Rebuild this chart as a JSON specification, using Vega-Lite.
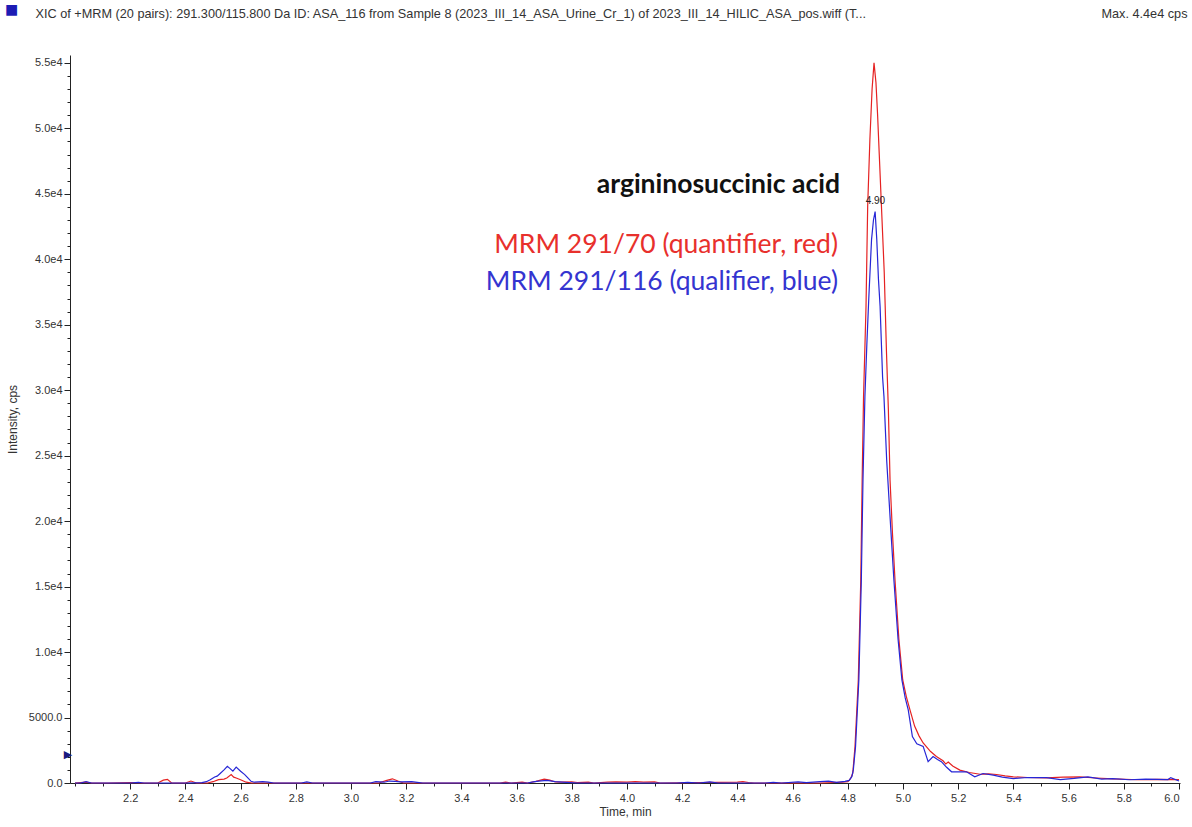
{
  "$schema": "https://vega.github.io/schema/vega-lite/v6.json",
  "width": 1110,
  "height": 728,
  "autosize": {"type": "none"},
  "padding": {"left": 70, "top": 55, "right": 12, "bottom": 44},
  "background": "white",
  "config": {
    "view": {"stroke": null},
    "axis": {
      "grid": false,
      "labelFont": "Liberation Sans",
      "titleFont": "Liberation Sans",
      "labelColor": "#333333",
      "titleColor": "#333333",
      "domainColor": "#222222",
      "tickColor": "#222222",
      "titleFontWeight": "normal",
      "labelFontSize": 11,
      "titleFontSize": 12
    }
  },
  "datasets": {
    "trace": [
      {"t": 2.00, "cps": 0, "trace": "red"}, {"t": 2.04, "cps": 60, "trace": "red"}, {"t": 2.06, "cps": 0, "trace": "red"}, {"t": 2.12, "cps": 0, "trace": "red"}, {"t": 2.20, "cps": 40, "trace": "red"}, {"t": 2.24, "cps": 0, "trace": "red"}, {"t": 2.30, "cps": 0, "trace": "red"}, {"t": 2.32, "cps": 220, "trace": "red"}, {"t": 2.335, "cps": 280, "trace": "red"}, {"t": 2.35, "cps": 0, "trace": "red"}, {"t": 2.40, "cps": 0, "trace": "red"}, {"t": 2.42, "cps": 150, "trace": "red"}, {"t": 2.44, "cps": 0, "trace": "red"}, {"t": 2.48, "cps": 0, "trace": "red"}, {"t": 2.50, "cps": 100, "trace": "red"}, {"t": 2.52, "cps": 260, "trace": "red"}, {"t": 2.54, "cps": 300, "trace": "red"}, {"t": 2.55, "cps": 380, "trace": "red"}, {"t": 2.566, "cps": 640, "trace": "red"}, {"t": 2.575, "cps": 450, "trace": "red"}, {"t": 2.584, "cps": 380, "trace": "red"}, {"t": 2.60, "cps": 250, "trace": "red"}, {"t": 2.62, "cps": 60, "trace": "red"}, {"t": 2.64, "cps": 0, "trace": "red"}, {"t": 3.10, "cps": 0, "trace": "red"}, {"t": 3.13, "cps": 200, "trace": "red"}, {"t": 3.15, "cps": 320, "trace": "red"}, {"t": 3.17, "cps": 150, "trace": "red"}, {"t": 3.19, "cps": 0, "trace": "red"}, {"t": 3.54, "cps": 0, "trace": "red"}, {"t": 3.56, "cps": 60, "trace": "red"}, {"t": 3.58, "cps": 0, "trace": "red"}, {"t": 3.62, "cps": 60, "trace": "red"}, {"t": 3.64, "cps": 0, "trace": "red"}, {"t": 3.67, "cps": 120, "trace": "red"}, {"t": 3.70, "cps": 300, "trace": "red"}, {"t": 3.72, "cps": 220, "trace": "red"}, {"t": 3.74, "cps": 80, "trace": "red"}, {"t": 3.76, "cps": 60, "trace": "red"}, {"t": 3.80, "cps": 80, "trace": "red"}, {"t": 3.82, "cps": 40, "trace": "red"}, {"t": 3.86, "cps": 60, "trace": "red"}, {"t": 3.88, "cps": 0, "trace": "red"}, {"t": 3.93, "cps": 60, "trace": "red"}, {"t": 3.96, "cps": 80, "trace": "red"}, {"t": 4.00, "cps": 60, "trace": "red"}, {"t": 4.03, "cps": 100, "trace": "red"}, {"t": 4.06, "cps": 60, "trace": "red"}, {"t": 4.10, "cps": 80, "trace": "red"}, {"t": 4.12, "cps": 0, "trace": "red"}, {"t": 4.40, "cps": 60, "trace": "red"}, {"t": 4.42, "cps": 100, "trace": "red"}, {"t": 4.44, "cps": 40, "trace": "red"}, {"t": 4.46, "cps": 0, "trace": "red"}, {"t": 4.70, "cps": 0, "trace": "red"}, {"t": 4.75, "cps": 40, "trace": "red"}, {"t": 4.78, "cps": 60, "trace": "red"}, {"t": 4.80, "cps": 100, "trace": "red"}, {"t": 4.805, "cps": 200, "trace": "red"}, {"t": 4.812, "cps": 420, "trace": "red"}, {"t": 4.818, "cps": 760, "trace": "red"}, {"t": 4.826, "cps": 2770, "trace": "red"}, {"t": 4.838, "cps": 7870, "trace": "red"}, {"t": 4.847, "cps": 15510, "trace": "red"}, {"t": 4.852, "cps": 23150, "trace": "red"}, {"t": 4.857, "cps": 29500, "trace": "red"}, {"t": 4.866, "cps": 36390, "trace": "red"}, {"t": 4.872, "cps": 44030, "trace": "red"}, {"t": 4.880, "cps": 49120, "trace": "red"}, {"t": 4.888, "cps": 53000, "trace": "red"}, {"t": 4.895, "cps": 55000, "trace": "red"}, {"t": 4.902, "cps": 53500, "trace": "red"}, {"t": 4.908, "cps": 51000, "trace": "red"}, {"t": 4.914, "cps": 48000, "trace": "red"}, {"t": 4.923, "cps": 43500, "trace": "red"}, {"t": 4.932, "cps": 39000, "trace": "red"}, {"t": 4.940, "cps": 33000, "trace": "red"}, {"t": 4.947, "cps": 28500, "trace": "red"}, {"t": 4.953, "cps": 23150, "trace": "red"}, {"t": 4.962, "cps": 19000, "trace": "red"}, {"t": 4.971, "cps": 15510, "trace": "red"}, {"t": 4.985, "cps": 11000, "trace": "red"}, {"t": 4.999, "cps": 7870, "trace": "red"}, {"t": 5.012, "cps": 6600, "trace": "red"}, {"t": 5.025, "cps": 5600, "trace": "red"}, {"t": 5.042, "cps": 4350, "trace": "red"}, {"t": 5.058, "cps": 3600, "trace": "red"}, {"t": 5.073, "cps": 3060, "trace": "red"}, {"t": 5.10, "cps": 2400, "trace": "red"}, {"t": 5.121, "cps": 2020, "trace": "red"}, {"t": 5.145, "cps": 1700, "trace": "red"}, {"t": 5.155, "cps": 1450, "trace": "red"}, {"t": 5.164, "cps": 1600, "trace": "red"}, {"t": 5.18, "cps": 1300, "trace": "red"}, {"t": 5.206, "cps": 985, "trace": "red"}, {"t": 5.24, "cps": 800, "trace": "red"}, {"t": 5.279, "cps": 670, "trace": "red"}, {"t": 5.31, "cps": 700, "trace": "red"}, {"t": 5.339, "cps": 650, "trace": "red"}, {"t": 5.37, "cps": 550, "trace": "red"}, {"t": 5.40, "cps": 470, "trace": "red"}, {"t": 5.45, "cps": 420, "trace": "red"}, {"t": 5.52, "cps": 390, "trace": "red"}, {"t": 5.58, "cps": 450, "trace": "red"}, {"t": 5.64, "cps": 470, "trace": "red"}, {"t": 5.70, "cps": 380, "trace": "red"}, {"t": 5.76, "cps": 310, "trace": "red"}, {"t": 5.85, "cps": 250, "trace": "red"}, {"t": 5.92, "cps": 280, "trace": "red"}, {"t": 6.00, "cps": 260, "trace": "red"},
      {"t": 2.00, "cps": 0, "trace": "blue"}, {"t": 2.02, "cps": 0, "trace": "blue"}, {"t": 2.04, "cps": 100, "trace": "blue"}, {"t": 2.06, "cps": 0, "trace": "blue"}, {"t": 2.20, "cps": 0, "trace": "blue"}, {"t": 2.23, "cps": 40, "trace": "blue"}, {"t": 2.25, "cps": 0, "trace": "blue"}, {"t": 2.40, "cps": 0, "trace": "blue"}, {"t": 2.46, "cps": 30, "trace": "blue"}, {"t": 2.476, "cps": 100, "trace": "blue"}, {"t": 2.49, "cps": 250, "trace": "blue"}, {"t": 2.506, "cps": 460, "trace": "blue"}, {"t": 2.515, "cps": 520, "trace": "blue"}, {"t": 2.524, "cps": 690, "trace": "blue"}, {"t": 2.54, "cps": 1000, "trace": "blue"}, {"t": 2.552, "cps": 1270, "trace": "blue"}, {"t": 2.562, "cps": 1100, "trace": "blue"}, {"t": 2.572, "cps": 900, "trace": "blue"}, {"t": 2.584, "cps": 1220, "trace": "blue"}, {"t": 2.60, "cps": 900, "trace": "blue"}, {"t": 2.615, "cps": 640, "trace": "blue"}, {"t": 2.628, "cps": 350, "trace": "blue"}, {"t": 2.638, "cps": 130, "trace": "blue"}, {"t": 2.65, "cps": 60, "trace": "blue"}, {"t": 2.68, "cps": 100, "trace": "blue"}, {"t": 2.70, "cps": 60, "trace": "blue"}, {"t": 2.72, "cps": 0, "trace": "blue"}, {"t": 2.82, "cps": 0, "trace": "blue"}, {"t": 2.84, "cps": 80, "trace": "blue"}, {"t": 2.86, "cps": 0, "trace": "blue"}, {"t": 3.07, "cps": 0, "trace": "blue"}, {"t": 3.09, "cps": 100, "trace": "blue"}, {"t": 3.12, "cps": 60, "trace": "blue"}, {"t": 3.14, "cps": 150, "trace": "blue"}, {"t": 3.16, "cps": 120, "trace": "blue"}, {"t": 3.18, "cps": 80, "trace": "blue"}, {"t": 3.22, "cps": 100, "trace": "blue"}, {"t": 3.24, "cps": 50, "trace": "blue"}, {"t": 3.26, "cps": 0, "trace": "blue"}, {"t": 3.64, "cps": 0, "trace": "blue"}, {"t": 3.66, "cps": 80, "trace": "blue"}, {"t": 3.68, "cps": 150, "trace": "blue"}, {"t": 3.71, "cps": 200, "trace": "blue"}, {"t": 3.74, "cps": 100, "trace": "blue"}, {"t": 3.78, "cps": 50, "trace": "blue"}, {"t": 3.82, "cps": 0, "trace": "blue"}, {"t": 4.18, "cps": 0, "trace": "blue"}, {"t": 4.22, "cps": 50, "trace": "blue"}, {"t": 4.26, "cps": 0, "trace": "blue"}, {"t": 4.30, "cps": 80, "trace": "blue"}, {"t": 4.33, "cps": 0, "trace": "blue"}, {"t": 4.50, "cps": 0, "trace": "blue"}, {"t": 4.53, "cps": 50, "trace": "blue"}, {"t": 4.56, "cps": 0, "trace": "blue"}, {"t": 4.62, "cps": 80, "trace": "blue"}, {"t": 4.65, "cps": 30, "trace": "blue"}, {"t": 4.70, "cps": 100, "trace": "blue"}, {"t": 4.73, "cps": 150, "trace": "blue"}, {"t": 4.76, "cps": 50, "trace": "blue"}, {"t": 4.79, "cps": 120, "trace": "blue"}, {"t": 4.805, "cps": 200, "trace": "blue"}, {"t": 4.815, "cps": 500, "trace": "blue"}, {"t": 4.820, "cps": 1000, "trace": "blue"}, {"t": 4.828, "cps": 2770, "trace": "blue"}, {"t": 4.840, "cps": 7870, "trace": "blue"}, {"t": 4.849, "cps": 15510, "trace": "blue"}, {"t": 4.855, "cps": 23150, "trace": "blue"}, {"t": 4.862, "cps": 29510, "trace": "blue"}, {"t": 4.869, "cps": 33500, "trace": "blue"}, {"t": 4.876, "cps": 37000, "trace": "blue"}, {"t": 4.886, "cps": 41500, "trace": "blue"}, {"t": 4.893, "cps": 43000, "trace": "blue"}, {"t": 4.899, "cps": 43640, "trace": "blue"}, {"t": 4.905, "cps": 41500, "trace": "blue"}, {"t": 4.911, "cps": 38500, "trace": "blue"}, {"t": 4.917, "cps": 36390, "trace": "blue"}, {"t": 4.926, "cps": 31000, "trace": "blue"}, {"t": 4.931, "cps": 29510, "trace": "blue"}, {"t": 4.941, "cps": 24600, "trace": "blue"}, {"t": 4.954, "cps": 20000, "trace": "blue"}, {"t": 4.967, "cps": 15510, "trace": "blue"}, {"t": 4.982, "cps": 11000, "trace": "blue"}, {"t": 4.996, "cps": 7870, "trace": "blue"}, {"t": 5.008, "cps": 6500, "trace": "blue"}, {"t": 5.019, "cps": 5580, "trace": "blue"}, {"t": 5.034, "cps": 3550, "trace": "blue"}, {"t": 5.05, "cps": 3000, "trace": "blue"}, {"t": 5.073, "cps": 2800, "trace": "blue"}, {"t": 5.091, "cps": 1630, "trace": "blue"}, {"t": 5.109, "cps": 2020, "trace": "blue"}, {"t": 5.125, "cps": 1800, "trace": "blue"}, {"t": 5.139, "cps": 1630, "trace": "blue"}, {"t": 5.158, "cps": 1200, "trace": "blue"}, {"t": 5.176, "cps": 855, "trace": "blue"}, {"t": 5.23, "cps": 855, "trace": "blue"}, {"t": 5.26, "cps": 470, "trace": "blue"}, {"t": 5.29, "cps": 725, "trace": "blue"}, {"t": 5.327, "cps": 600, "trace": "blue"}, {"t": 5.36, "cps": 450, "trace": "blue"}, {"t": 5.40, "cps": 340, "trace": "blue"}, {"t": 5.45, "cps": 420, "trace": "blue"}, {"t": 5.52, "cps": 410, "trace": "blue"}, {"t": 5.57, "cps": 260, "trace": "blue"}, {"t": 5.62, "cps": 350, "trace": "blue"}, {"t": 5.67, "cps": 470, "trace": "blue"}, {"t": 5.72, "cps": 300, "trace": "blue"}, {"t": 5.76, "cps": 340, "trace": "blue"}, {"t": 5.82, "cps": 250, "trace": "blue"}, {"t": 5.88, "cps": 300, "trace": "blue"}, {"t": 5.96, "cps": 260, "trace": "blue"}, {"t": 5.97, "cps": 410, "trace": "blue"}, {"t": 6.00, "cps": 150, "trace": "blue"}
    ],
    "notes": [
      {"t": 4.7717, "cps": 45670, "label": "argininosuccinic acid", "kind": "title"},
      {"t": 4.7645, "cps": 41090, "label": "MRM 291/70 (quantifier, red)", "kind": "red"},
      {"t": 4.7645, "cps": 38300, "label": "MRM 291/116 (qualifier, blue)", "kind": "blue"},
      {"t": 4.90, "cps": 44450, "label": "4.90", "kind": "apex"},
      {"t": 1.9747, "cps": 2140, "label": "▶", "kind": "marker"}
    ]
  },
  "data": {"name": "trace"},
  "layer": [
    {
      "transform": [{"filter": "datum.trace === 'red'"}],
      "mark": {"type": "line", "color": "#e52222", "strokeWidth": 1.2},
      "encoding": {
        "x": {"field": "t", "type": "quantitative", "scale": {"domain": [1.9819, 6.0036], "nice": false, "zero": false},
          "axis": {"orient": "bottom", "values": [2.2, 2.4, 2.6, 2.8, 3.0, 3.2, 3.4, 3.6, 3.8, 4.0, 4.2, 4.4, 4.6, 4.8, 5.0, 5.2, 5.4, 5.6, 5.8, 6.0], "format": ".1f", "tickSize": 6, "labelPadding": 3, "title": "Time, min", "titlePadding": 3}},
        "y": {"field": "cps", "type": "quantitative", "scale": {"domain": [0, 55600], "nice": false, "zero": true},
          "axis": {"orient": "left", "values": [0, 5000, 10000, 15000, 20000, 25000, 30000, 35000, 40000, 45000, 50000, 55000], "labelExpr": "datum.value >= 10000 ? format(datum.value / 10000, '.1f') + 'e4' : format(datum.value, '.1f')", "tickSize": 6, "labelPadding": 2, "title": "Intensity, cps", "titleX": -58, "titleBaseline": "middle"}}
      }
    },
    {
      "transform": [{"filter": "datum.trace === 'blue'"}],
      "mark": {"type": "line", "color": "#2626d6", "strokeWidth": 1.2},
      "encoding": {
        "x": {"field": "t", "type": "quantitative", "scale": {"domain": [1.9819, 6.0036], "nice": false, "zero": false}, "axis": null},
        "y": {"field": "cps", "type": "quantitative", "scale": {"domain": [0, 55600], "nice": false, "zero": true}, "axis": null}
      }
    },
    {
      "mark": {"type": "point", "opacity": 0},
      "encoding": {
        "x": {"field": "t", "type": "quantitative", "scale": {"domain": [1.9819, 6.0036], "nice": false, "zero": false},
          "axis": {"orient": "bottom", "values": [2.0, 2.1, 2.2, 2.3, 2.4, 2.5, 2.6, 2.7, 2.8, 2.9, 3.0, 3.1, 3.2, 3.3, 3.4, 3.5, 3.6, 3.7, 3.8, 3.9, 4.0, 4.1, 4.2, 4.3, 4.4, 4.5, 4.6, 4.7, 4.8, 4.9, 5.0, 5.1, 5.2, 5.3, 5.4, 5.5, 5.6, 5.7, 5.8, 5.9], "labels": false, "domain": false, "tickSize": 3, "title": null}},
        "y": {"field": "cps", "type": "quantitative", "scale": {"domain": [0, 55600], "nice": false, "zero": true},
          "axis": {"orient": "left", "values": [1000, 2000, 3000, 4000, 6000, 7000, 8000, 9000, 11000, 12000, 13000, 14000, 16000, 17000, 18000, 19000, 21000, 22000, 23000, 24000, 26000, 27000, 28000, 29000, 31000, 32000, 33000, 34000, 36000, 37000, 38000, 39000, 41000, 42000, 43000, 44000, 46000, 47000, 48000, 49000, 51000, 52000, 53000, 54000], "labels": false, "domain": false, "tickSize": 3, "title": null}}
      }
    },
    {
      "mark": {"type": "point", "opacity": 0},
      "encoding": {
        "x": {"field": "t", "type": "quantitative", "scale": {"domain": [1.9819, 6.0036], "nice": false, "zero": false},
          "axis": {"orient": "top", "labels": false, "ticks": false, "domain": false, "title": "XIC of +MRM (20 pairs): 291.300/115.800 Da ID: ASA_116 from Sample 8 (2023_III_14_ASA_Urine_Cr_1) of 2023_III_14_HILIC_ASA_pos.wiff (T...", "titleX": -35, "titleY": -42, "titleAlign": "left", "titleBaseline": "middle", "titleFontSize": 12.7, "titleColor": "#333333"}},
        "y": {"field": "cps", "type": "quantitative", "scale": {"domain": [0, 55600], "nice": false, "zero": true}, "axis": null}
      }
    },
    {
      "mark": {"type": "point", "opacity": 0},
      "encoding": {
        "x": {"field": "t", "type": "quantitative", "scale": {"domain": [1.9819, 6.0036], "nice": false, "zero": false},
          "axis": {"orient": "top", "labels": false, "ticks": false, "domain": false, "title": "Max. 4.4e4 cps", "titleX": 1117, "titleY": -42, "titleAlign": "right", "titleBaseline": "middle", "titleFontSize": 12.7, "titleColor": "#333333"}},
        "y": {"field": "cps", "type": "quantitative", "scale": {"domain": [0, 55600], "nice": false, "zero": true}, "axis": null}
      }
    },
    {
      "mark": {"type": "point", "opacity": 0},
      "encoding": {
        "x": {"field": "t", "type": "quantitative", "scale": {"domain": [1.9819, 6.0036], "nice": false, "zero": false},
          "axis": {"orient": "top", "labels": false, "ticks": false, "domain": false, "title": "■", "titleFont": "DejaVu Sans", "titleX": -59, "titleY": -46, "titleAlign": "center", "titleBaseline": "middle", "titleFontSize": 14, "titleColor": "#1c1cb4"}},
        "y": {"field": "cps", "type": "quantitative", "scale": {"domain": [0, 55600], "nice": false, "zero": true}, "axis": null}
      }
    },
    {
      "data": {"name": "notes"},
      "transform": [{"filter": "datum.kind === 'title'"}],
      "mark": {"type": "text", "font": "Lato", "fontWeight": "bold", "fontSize": 26.5, "align": "right", "baseline": "middle", "color": "#111111"},
      "encoding": {
        "x": {"field": "t", "type": "quantitative", "scale": {"domain": [1.9819, 6.0036], "nice": false, "zero": false}, "axis": null},
        "y": {"field": "cps", "type": "quantitative", "scale": {"domain": [0, 55600], "nice": false, "zero": true}, "axis": null},
        "text": {"field": "label"}
      }
    },
    {
      "data": {"name": "notes"},
      "transform": [{"filter": "datum.kind === 'red'"}],
      "mark": {"type": "text", "font": "Lato", "fontSize": 26.5, "align": "right", "baseline": "middle", "color": "#e8302c"},
      "encoding": {
        "x": {"field": "t", "type": "quantitative", "scale": {"domain": [1.9819, 6.0036], "nice": false, "zero": false}, "axis": null},
        "y": {"field": "cps", "type": "quantitative", "scale": {"domain": [0, 55600], "nice": false, "zero": true}, "axis": null},
        "text": {"field": "label"}
      }
    },
    {
      "data": {"name": "notes"},
      "transform": [{"filter": "datum.kind === 'blue'"}],
      "mark": {"type": "text", "font": "Lato", "fontSize": 26.5, "align": "right", "baseline": "middle", "color": "#3434d0"},
      "encoding": {
        "x": {"field": "t", "type": "quantitative", "scale": {"domain": [1.9819, 6.0036], "nice": false, "zero": false}, "axis": null},
        "y": {"field": "cps", "type": "quantitative", "scale": {"domain": [0, 55600], "nice": false, "zero": true}, "axis": null},
        "text": {"field": "label"}
      }
    },
    {
      "data": {"name": "notes"},
      "transform": [{"filter": "datum.kind === 'apex'"}],
      "mark": {"type": "text", "font": "Liberation Sans", "fontSize": 10, "align": "center", "baseline": "middle", "color": "#222222"},
      "encoding": {
        "x": {"field": "t", "type": "quantitative", "scale": {"domain": [1.9819, 6.0036], "nice": false, "zero": false}, "axis": null},
        "y": {"field": "cps", "type": "quantitative", "scale": {"domain": [0, 55600], "nice": false, "zero": true}, "axis": null},
        "text": {"field": "label"}
      }
    },
    {
      "data": {"name": "notes"},
      "transform": [{"filter": "datum.kind === 'marker'"}],
      "mark": {"type": "text", "font": "DejaVu Sans", "fontSize": 11, "align": "center", "baseline": "middle", "color": "#1a1a80"},
      "encoding": {
        "x": {"field": "t", "type": "quantitative", "scale": {"domain": [1.9819, 6.0036], "nice": false, "zero": false}, "axis": null},
        "y": {"field": "cps", "type": "quantitative", "scale": {"domain": [0, 55600], "nice": false, "zero": true}, "axis": null},
        "text": {"field": "label"}
      }
    }
  ],
  "resolve": {"axis": {"x": "independent", "y": "independent"}}
}
